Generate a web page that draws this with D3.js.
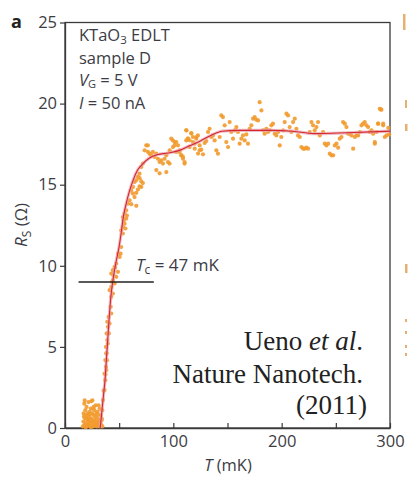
<!DOCTYPE html>
<html>
<head>
<meta charset="utf-8">
<script src="https://cdn.jsdelivr.net/npm/d3@7"></script>
<style>
  html, body { margin: 0; padding: 0; background: #fff; }
  svg { display: block; }
  .sans { font-family: "Open Sans", "Noto Sans", sans-serif; }
  .serif { font-family: "Liberation Serif", "Times New Roman", serif; }
</style>
</head>
<body>
<svg id="chart" width="408" height="477"></svg>
<script>
// Sheet resistance R_S (Ω) versus temperature T (mK), KTaO3 EDLT sample D

// Low-temperature cluster below Tc
const clusterT = [16.5,17,17.2,17.8,18,18.5,18.8,19.2,19.5,19.9,20.3,20.6,21,21.3,21.7,22,22.4,22.8,23.1,23.5,
  23.8,24.2,24.6,25,25.3,25.7,26,26.4,26.8,27.2,27.5,27.9,28.3,28.6,29,29.4,29.7,30.1,30.5,30.8,31.2,31.6,32,32.3,
  32.7,33.1,33.5,34,34.5,19,24,28,21.5,26.5,17.5,31,23,29,20,27,18.2,24.3,25.8];
const clusterR = [0.1,0.4,0.9,1.5,0.2,0.6,1.1,0.3,0.8,1.3,0.1,0.5,0.9,0.2,1.6,0.7,0.3,1.0,0.5,0.1,
  1.2,0.6,0.3,0.9,1.7,0.4,0.1,0.8,0.5,1.1,0.2,0.7,1.4,0.4,0.9,0.1,0.6,1.0,0.3,0.8,0.2,0.5,1.2,0.1,
  0.4,0.8,0.2,0.5,0.1,0.05,0.05,0.15,0.45,1.3,0.7,1.4,0.85,0.35,0.65,0.25,1.7,1.65,1.2];

// Points through the superconducting transition
const transT = [33.8,34.4,35,35.6,36.5,37.2,37.4,38.1,38.7,38.1,39.6,40.5,41.1,42.7,42.2,
  40.2,39,39.6,38.4,39,37.8,38.4,37.2,37.8,36.5,
  41.2,42.7,44.2,42.7,45.8,44.2,47.3,42.7,48.9,44.2,45.8,47.3,48.9,50.4,43.5,44.8,46.2,
  51.3,51.9,53.4,51.9,53.4,55,56.5,53.4,55,56.5,58,59.6,57.2,54.2,55.8,
  62.7,64.2,61.1,62.7,64.2,65.7,67.3,68.8,70.4,71.9,70.4,61.2,65.8,65.8,67.3,68.9,68.9,70.4,71.9];
const transR = [0.6,1.1,1.72,2.3,2.34,2.95,3.3,3.57,4.18,4.6,5.21,5.83,6.44,7.06,7.47,
  6.85,6.55,6.24,5.83,5.42,5.0,4.6,4.19,3.77,3.36,
  8.5,8.09,8.29,8.7,8.91,9.11,9.32,9.52,9.63,9.73,9.93,10.14,10.75,10.55,9.0,9.4,9.9,
  10.75,11.16,11.99,12.19,12.4,12.6,12.91,13.01,13.22,13.42,13.83,14.04,13.1,12.8,12.3,
  14.45,14.24,14.65,14.86,15.17,15.27,15.48,15.68,16.09,16.3,14.86,13.8,13.7,14.5,14.7,14.9,15.4,15.2,15.1];

// Knee and plateau above the transition
const plateauT = [73.5,75,76.6,76.5,78.1,79.6,81.1,82.7,84.2,85.8,87.3,88.8,90.4,91.9,93.5,95,96.5,93.5,84.3,87.3,
  96.6,98.1,99.7,101.2,102.8,104.3,105.8,107.4,108.9,112,113.5,99.6,101.2,102.7,110.4,111.9,115,116.6,118.1,119.7,
  121.2,122.8,124.3,
  105.8,107.4,108.9,110.4,112,113.5,115,116.6,118.1,119.7,121.2,122.7,124.3,125.8,127.4,128.9,130.4,132,133.5,135.1,
  136.6,138.1,139.7,141.2,142.8,144.3,145.8,147.4,148.9,150.5,152,153.5,155.1,156.6,158.2,159.7,161.2,162.8,164.3,165.9,
  167.4,168.9,170.5,172,173.6,175.1,176.6,178.2,179.7,181.3,182.8,184.3,185.9,187.4,189,190.5,192,193.6,195.1,196.7,
  198.2,199.7,201.3,202.8,204.4,205.9,207.4,209,210.5,212.1,213.6,215.1,216.7,218.2,219.8,221.3,222.8,224.4,225.9,227.5,
  229,230.5,232.1,233.6,235.2,238.2,239.8,241.3,242.9,244.4,245.9,247.5,249,250.6,252.1,253.6,255.2,256.7,258.3,259.8,
  261.3,262.9,264.4,266,267.5,269,270.6,272.1,273.7,275.2,276.7,278.3,279.8,281.4,282.9,284.4,286,287.5,289.1,290.6,
  292.1,293.7,295.2,291.5,293.7,296.8,286,289,298.5,299.3];
const plateauR = [17.12,17.43,17.02,17.43,16.91,16.81,17.02,16.71,16.91,16.6,16.4,16.5,16.3,16.6,16.81,16.4,16.3,15.78,15.9,15.7,
  17.12,17.84,17.32,17.63,17.02,17.43,17.02,16.81,16.6,18.35,17.84,17.73,17.43,17.63,16.3,17.73,17.74,18.15,17.94,17.53,
  17.84,16.92,17.12,
  17.12,16.81,16.71,16.4,18.35,17.84,17.32,18.18,17.63,17.22,17.94,18.04,17.42,17.16,16.87,17.57,17.69,18.25,18.45,17.94,
  18.04,17.73,17.12,16.91,17.94,19.27,19.17,18.66,17.63,17.32,18.86,18.25,17.84,18.35,18.55,18.25,17.53,17.84,18.04,17.73,
  18.1,17.53,18.45,18.66,19.07,19.17,19.01,18.96,20.09,19.58,18.35,18.14,18.45,18.25,18.35,18.66,18.76,18.14,18.04,18.25,
  17.42,17.94,18.35,18.86,19.38,19.27,18.55,18.25,18.86,19.07,18.45,18.04,17.94,17.32,17.22,17.22,17.28,17.22,18.25,18.86,
  18.66,18.35,18.55,18.86,18.04,18.25,17.53,17.42,17.53,16.91,16.81,16.81,17.42,17.53,17.28,17.84,17.94,18.86,18.76,18.55,
  18.14,18.14,18.04,17.22,17.94,18.04,18.04,18.25,18.66,18.76,18.86,18.66,18.55,18.25,18.35,18.14,17.63,18.25,18.76,19.68,
  19.62,18.66,17.94,19.64,18.76,18.04,17.53,18.76,18.5,18.1];

// Smoothed curve through the data
const curveT = [32.5,34,35.5,37,38,39,40,41,42.2,44,47,50,52,53.8,56,59.5,63,67,72,78,85,95,105,115,125,135,145,160,190,210,230,260,300];
const curveR = [0,1,2,3,4,5,6,7,8,9,10.2,11.2,12.1,13.0,13.7,14.6,15.3,15.9,16.3,16.65,16.85,16.95,17.1,17.4,17.7,18.05,18.3,18.35,18.35,18.3,18.15,18.2,18.3];

// Axis ticks
const yTicks = [0, 5, 10, 15, 20, 25];
const xTicks = [0, 50, 100, 150, 200, 250, 300];
const xLabelled = [0, 100, 200, 300];

// Critical temperature marker
const tcValue = 47;
const tcLevel = 9.0;
const tcSpan = [12.5, 82];

const annotation = ["KTaO", "sample D"];
const citation = ["Nature Nanotech.", "(2011)"];

const svg = d3.select("#chart");
const margin = { left: 65, right: 18, top: 22.5, bottom: 49 };
const W = 408, H = 477;

const x = d3.scaleLinear().domain([0, 300]).range([margin.left, W - margin.right]);
const y = d3.scaleLinear().domain([0, 25]).range([H - margin.bottom, margin.top]);

const axisColor = "#3a3a3a";
const textColor = "#3c3c44";

// plot frame
svg.append("rect")
  .attr("x", x(0)).attr("y", y(25))
  .attr("width", x(300) - x(0)).attr("height", y(0) - y(25))
  .attr("fill", "none").attr("stroke", axisColor).attr("stroke-width", 1.3);

// y axis: outward ticks
const gy = svg.append("g")
  .attr("class", "sans")
  .attr("transform", `translate(${x(0)},0)`)
  .call(d3.axisLeft(y).tickValues(yTicks).tickSize(5).tickSizeOuter(0).tickPadding(3).tickFormat(d3.format("d")));
gy.select(".domain").attr("stroke", axisColor).attr("stroke-width", 1.3);
gy.selectAll(".tick line").attr("stroke", axisColor).attr("stroke-width", 1.2);
gy.selectAll(".tick text").attr("fill", textColor).style("font-size", "16.5px").style("font-family", '"Open Sans", sans-serif');

// x axis: inward ticks, labels every 100 mK
const gx = svg.append("g")
  .attr("class", "sans")
  .attr("transform", `translate(0,${y(0)})`)
  .call(d3.axisBottom(x).tickValues(xTicks).tickSize(-5).tickSizeOuter(0).tickPadding(7)
    .tickFormat(d => xLabelled.includes(d) ? d3.format("d")(d) : ""));
gx.select(".domain").attr("stroke", axisColor).attr("stroke-width", 1.3);
gx.selectAll(".tick line").attr("stroke", axisColor).attr("stroke-width", 1.2);
gx.selectAll(".tick text").attr("fill", textColor).style("font-size", "16.5px").style("font-family", '"Open Sans", sans-serif');

// axis titles
const xt = svg.append("text").attr("class", "sans")
  .attr("x", 228).attr("y", 471).attr("text-anchor", "middle")
  .attr("fill", textColor).style("font-size", "16.5px");
xt.append("tspan").style("font-style", "italic").text("T");
xt.append("tspan").text(" (mK)");

const yt = svg.append("text").attr("class", "sans")
  .attr("transform", "translate(27,225) rotate(-90)")
  .attr("text-anchor", "middle").attr("fill", textColor).style("font-size", "17px");
yt.append("tspan").style("font-style", "italic").text("R");
yt.append("tspan").attr("dy", 4).style("font-size", "12px").text("S");
yt.append("tspan").attr("dy", -4).text(" (Ω)");

// panel letter
svg.append("text").attr("class", "sans")
  .attr("x", 11).attr("y", 28).attr("fill", "#222")
  .style("font-size", "18px").style("font-weight", "bold").text("a");

// sample annotation
const ann = svg.append("g").attr("class", "sans").attr("fill", textColor).style("font-size", "16.5px");
const l1 = ann.append("text").attr("x", 79).attr("y", 41);
l1.append("tspan").text(annotation[0]);
l1.append("tspan").attr("dy", 3).style("font-size", "11.5px").text("3");
l1.append("tspan").attr("dy", -3).text(" EDLT");
ann.append("text").attr("x", 79).attr("y", 64).text(annotation[1]);
const l3 = ann.append("text").attr("x", 79).attr("y", 86);
l3.append("tspan").style("font-style", "italic").text("V");
l3.append("tspan").attr("dy", 2).style("font-size", "11px").text("G");
l3.append("tspan").attr("dy", -2).text(" = 5 V");
const l4 = ann.append("text").attr("x", 79).attr("y", 109);
l4.append("tspan").style("font-style", "italic").text("I");
l4.append("tspan").text(" = 50 nA");

// data points
const dots = [];
clusterT.forEach((t, i) => dots.push([t, clusterR[i]]));
transT.forEach((t, i) => dots.push([t, transR[i]]));
plateauT.forEach((t, i) => dots.push([t, plateauR[i]]));

svg.append("g").selectAll("circle").data(dots).join("circle")
  .attr("cx", d => x(d[0])).attr("cy", d => y(d[1]))
  .attr("r", 2.1).attr("fill", "#f29a2e").attr("fill-opacity", 0.9);

// smoothed curve: soft halo plus core line
const line = d3.line().x(d => x(d[0])).y(d => y(d[1])).curve(d3.curveMonotoneX);
const curve = curveT.map((t, i) => [t, curveR[i]]);
svg.append("path").datum(curve).attr("d", line)
  .attr("fill", "none").attr("stroke", "#eaa0ad").attr("stroke-width", 3.2).attr("stroke-opacity", 0.7);
svg.append("path").datum(curve).attr("d", line)
  .attr("fill", "none").attr("stroke", "#d2272d").attr("stroke-width", 1.1);

// Tc marker line and label
svg.append("line")
  .attr("x1", x(tcSpan[0])).attr("x2", x(tcSpan[1]))
  .attr("y1", y(tcLevel)).attr("y2", y(tcLevel))
  .attr("stroke", "#222").attr("stroke-width", 1.3);
const tcl = svg.append("text").attr("class", "sans")
  .attr("x", 136).attr("y", 271).attr("fill", textColor).style("font-size", "17px");
tcl.append("tspan").style("font-style", "italic").text("T");
tcl.append("tspan").attr("dy", 3).style("font-size", "12px").text("c");
tcl.append("tspan").attr("dy", -3).text(` = ${tcValue} mK`);

// citation
const cit = svg.append("g").attr("class", "serif").attr("fill", "#222")
  .style("font-size", "27px").attr("text-anchor", "end");
const c1 = cit.append("text").attr("x", 363).attr("y", 350);
c1.append("tspan").text("Ueno ");
c1.append("tspan").style("font-style", "italic").text("et al");
c1.append("tspan").text(".");
cit.append("text").attr("x", 363).attr("y", 383).text(citation[0]);
cit.append("text").attr("x", 367).attr("y", 414).text(citation[1]);

// edge of the neighbouring panel
const edge = svg.append("g").attr("fill", "#e3a35a").attr("opacity", 0.85);
edge.append("rect").attr("x", 403).attr("y", 14).attr("width", 2.5).attr("height", 16);
edge.append("rect").attr("x", 405).attr("y", 100).attr("width", 2).attr("height", 8);
edge.append("rect").attr("x", 405).attr("y", 124).attr("width", 2.5).attr("height", 7);
edge.append("rect").attr("x", 405).attr("y", 264).attr("width", 2.5).attr("height", 9);
edge.append("rect").attr("x", 405).attr("y", 319).attr("width", 2).attr("height", 3);
edge.append("rect").attr("x", 405).attr("y", 331).attr("width", 2).attr("height", 3);
edge.append("rect").attr("x", 405).attr("y", 345).attr("width", 2).attr("height", 3);
edge.append("rect").attr("x", 405).attr("y", 353).attr("width", 2).attr("height", 3);
</script>
</body>
</html>
